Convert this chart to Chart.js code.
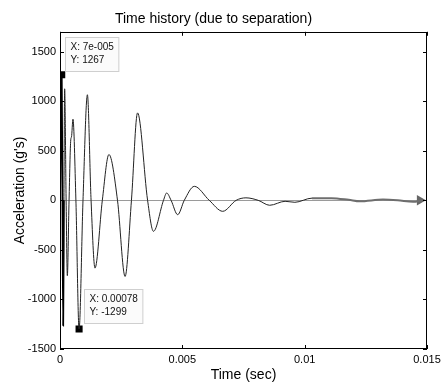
<!DOCTYPE html>
<html>
<head>
<meta charset="utf-8">
<script src="https://cdn.jsdelivr.net/npm/chart.js@4.4.0/dist/chart.umd.min.js"></script>
<style>
  body { margin: 0; background: #fff; }
  #wrap { width: 446px; height: 385px; }
</style>
</head>
<body>
<div id="wrap"><canvas id="graphCanvas" width="446" height="385"></canvas></div>
<script>
// time history (sec, g's)
var timeSec = [0, 0.00003, 0.00007, 0.0001, 0.00013, 0.00016, 0.00019, 0.00025, 0.0003, 0.00037,
    0.00044, 0.00047, 0.00053, 0.00065, 0.00078, 0.00094, 0.00112, 0.00127, 0.00143, 0.00173,
    0.002, 0.00235, 0.00266, 0.00292, 0.00317, 0.00358, 0.00382, 0.00423, 0.00436, 0.00454,
    0.00481, 0.00508, 0.00549, 0.0061, 0.00665, 0.0072, 0.0076, 0.0081, 0.00857, 0.0092,
    0.0096, 0.0103, 0.0111, 0.0118, 0.01225, 0.0132, 0.0138, 0.01443, 0.0148];
var accel = [0, 700, 1267, 0, -1265, 0, 1125, 0, -760, 0,
    610, 640, 818, 0, -1299, 0, 1065, 0, -684, 0,
    462, 0, -768, 0, 882, 0, -313, 0, 74, 0,
    -145, 0, 141, 0, -111, 0, 25, 0, -50, -10,
    -20, 22, 22, 5, -10, 7, 0, -15, 0];

// data tips
var tipX = [0.00007, 0.00078];
var tipY = [1267, -1299];
var tipText = [["X: 7e-005", "Y: 1267"], ["X: 0.00078", "Y: -1299"]];

// arrow head at the end of the trace
var arrowX = [0.01471];
var arrowY = [0];

var xTicks = [0, 0.005, 0.01, 0.015];
var yTicks = [-1500, -1000, -500, 0, 500, 1000, 1500];
var xLabels = ['0', '0.005', '0.01', '0.015'];
var yLabels = ['-1500', '-1000', '-500', '0', '500', '1000', '1500'];

var font = "'Liberation Sans', Arial, Helvetica, sans-serif";

function pts(xs, ys) {
    var out = [];
    for (var i in xs) {
        out.push({x: xs[i], y: ys[i]});
    }
    return out;
}

var frame = {
    id: 'frame',
    afterDraw: function (chart) {
        var ctx = chart.ctx, a = chart.chartArea;
        var sx = chart.scales.x, sy = chart.scales.y;
        ctx.save();
        ctx.strokeStyle = '#000';
        ctx.lineWidth = 1;
        ctx.strokeRect(Math.round(a.left) + 0.5, Math.round(a.top) + 0.5,
            Math.round(a.right - a.left) - 1, Math.round(a.bottom - a.top) - 1);
        ctx.beginPath();
        xTicks.forEach(function (v) {
            var px = Math.round(sx.getPixelForValue(v)) + 0.5;
            ctx.moveTo(px, a.bottom); ctx.lineTo(px, a.bottom - 4);
            ctx.moveTo(px, a.top); ctx.lineTo(px, a.top + 4);
        });
        yTicks.forEach(function (v) {
            var py = Math.round(sy.getPixelForValue(v)) + 0.5;
            ctx.moveTo(a.left, py); ctx.lineTo(a.left + 4, py);
            ctx.moveTo(a.right, py); ctx.lineTo(a.right - 4, py);
        });
        ctx.stroke();

        // data tip boxes
        var offs = [[3, -38], [5, -40]];
        ctx.font = '10px ' + font;
        ctx.textBaseline = 'middle';
        ctx.textAlign = 'left';
        for (var i = 0; i < tipX.length; i++) {
            var mx = sx.getPixelForValue(tipX[i]);
            var my = sy.getPixelForValue(tipY[i]);
            var w = Math.max(ctx.measureText(tipText[i][0]).width, ctx.measureText(tipText[i][1]).width) + 10;
            var bx = Math.round(mx + offs[i][0]) + 0.5, by = Math.round(my + offs[i][1]) + 0.5;
            ctx.fillStyle = '#fbfbfb';
            ctx.strokeStyle = '#cfcfcf';
            ctx.fillRect(bx, by, w, 34);
            ctx.strokeRect(bx, by, w, 34);
            ctx.fillStyle = '#111';
            ctx.fillText(tipText[i][0], bx + 5, by + 10);
            ctx.fillText(tipText[i][1], bx + 5, by + 23);
        }
        ctx.restore();
    }
};

var chartdata = {
    datasets: [
        {
            label: 'Acceleration',
            data: pts(timeSec, accel),
            borderColor: '#222',
            borderWidth: 1,
            pointRadius: 0,
            fill: false,
            cubicInterpolationMode: 'monotone',
            segment: {
                borderColor: function (c) { return c.p0.parsed.x >= 0.0102 ? '#6e6e6e' : (c.p0.parsed.x < 0.00016 ? '#000' : undefined); },
                borderWidth: function (c) { return c.p0.parsed.x >= 0.0102 ? 2 : (c.p0.parsed.x < 0.00016 ? 1.8 : undefined); }
            }
        },
        {
            label: 'tips',
            data: pts(tipX, tipY),
            showLine: false,
            pointStyle: 'rect',
            pointRadius: 5,
            backgroundColor: '#000',
            borderColor: '#000',
            borderWidth: 0
        },
        {
            label: 'arrow',
            data: pts(arrowX, arrowY),
            showLine: false,
            pointStyle: 'triangle',
            rotation: 90,
            pointRadius: 6,
            backgroundColor: '#666',
            borderColor: '#666',
            borderWidth: 0
        }
    ]
};

var graphTarget = document.getElementById('graphCanvas');

var lineGraph = new Chart(graphTarget, {
    type: 'line',
    data: chartdata,
    plugins: [frame],
    options: {
        responsive: false,
        animation: false,
        layout: { padding: { left: 0, right: 19, top: 0, bottom: 0 } },
        plugins: {
            legend: { display: false },
            tooltip: { enabled: false },
            title: {
                display: true,
                text: 'Time history (due to separation)',
                color: '#000',
                font: { family: font, size: 14, weight: 'normal' },
                padding: { top: 11, bottom: 4 }
            }
        },
        scales: {
            x: {
                type: 'linear',
                min: 0,
                max: 0.015,
                afterBuildTicks: function (s) { s.ticks = xTicks.map(function (v) { return {value: v}; }); },
                afterFit: function (s) { s.height = 36; },
                grid: { display: false, drawTicks: false },
                border: { display: false },
                ticks: {
                    color: '#000',
                    padding: 4,
                    maxRotation: 0,
                    font: { family: font, size: 11 },
                    callback: function (v, i) { return xLabels[i]; }
                },
                title: {
                    display: true,
                    text: 'Time (sec)',
                    color: '#000',
                    font: { family: font, size: 14 },
                    padding: { top: 0, bottom: 1 }
                }
            },
            y: {
                min: -1500,
                max: 1700,
                afterBuildTicks: function (s) { s.ticks = yTicks.map(function (v) { return {value: v}; }); },
                afterFit: function (s) { s.width = 60; },
                grid: {
                    drawTicks: false,
                    color: function (c) { return c.tick && c.tick.value === 0 ? '#9a9a9a' : 'rgba(0,0,0,0)'; }
                },
                border: { display: false },
                ticks: {
                    color: '#000',
                    padding: 4,
                    font: { family: font, size: 11 },
                    callback: function (v, i) { return yLabels[i]; }
                },
                title: {
                    display: true,
                    text: "Acceleration (g's)",
                    color: '#000',
                    font: { family: font, size: 14 },
                    padding: { top: 12, bottom: 0 }
                }
            }
        }
    }
});
</script>
</body>
</html>
